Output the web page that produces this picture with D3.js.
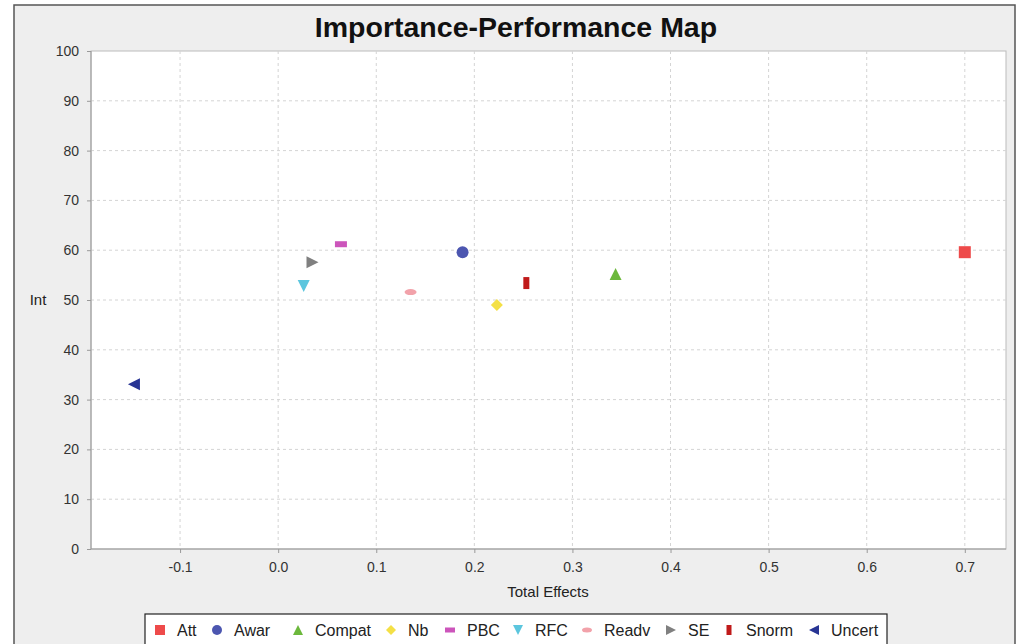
<!DOCTYPE html>
<html>
<head>
<meta charset="utf-8">
<script src="https://cdn.jsdelivr.net/npm/d3@7"></script>
<style>
  body { margin: 0; background: #fff; }
  svg { display: block; font-family: "Liberation Sans", Arial, sans-serif; }
  .axis text { font-size: 14px; fill: #333; }
  .axis path, .axis line { stroke: #999; }
  .grid line { stroke: #d4d4d4; stroke-dasharray: 3,3; }
</style>
</head>
<body>
<svg width="1017" height="644"></svg>
<script>
var names   = ["Att", "Awar", "Compat", "Nb", "PBC", "RFC", "Readv", "SE", "Snorm", "Uncert"];
var effects = [0.700, 0.188, 0.344, 0.223, 0.064, 0.026, 0.135, 0.035, 0.253, -0.147];
var perf    = [59.6, 59.6, 55.2, 49.0, 61.2, 52.8, 51.6, 57.6, 53.4, 33.1];
var xTicks  = [-0.1, 0.0, 0.1, 0.2, 0.3, 0.4, 0.5, 0.6, 0.7];
var yTicks  = [0, 10, 20, 30, 40, 50, 60, 70, 80, 90, 100];

var colors = {
  Att: "#ee4a4a", Awar: "#4c56b0", Compat: "#6cb83c", Nb: "#f4e046", PBC: "#cc55bb",
  RFC: "#5cc6de", Readv: "#f2a2aa", SE: "#808080", Snorm: "#c01a1a", Uncert: "#283594"
};

var svg = d3.select("svg"),
    width = +svg.attr("width"),
    height = +svg.attr("height");

var plot = {left: 91, top: 51, right: 1006, bottom: 549};

// outer panel
svg.append("rect")
  .attr("x", 14).attr("y", 5)
  .attr("width", 1001).attr("height", 660)
  .attr("fill", "#eeeeee")
  .attr("stroke", "#555").attr("stroke-width", 1.5);

svg.append("rect")
  .attr("x", plot.left).attr("y", plot.top)
  .attr("width", plot.right - plot.left).attr("height", plot.bottom - plot.top)
  .attr("fill", "#fff")
  .attr("stroke", "#bbb");

var x = d3.scaleLinear().domain([-0.1908, 0.742]).range([plot.left, plot.right]);
var y = d3.scaleLinear().domain([0, 100]).range([plot.bottom, plot.top]);

// grid
var grid = svg.append("g").attr("class", "grid");
grid.selectAll(".gx").data(xTicks).enter().append("line")
  .attr("x1", function(d) { return x(d); }).attr("x2", function(d) { return x(d); })
  .attr("y1", plot.top).attr("y2", plot.bottom);
grid.selectAll(".gy").data(yTicks.slice(1, -1)).enter().append("line")
  .attr("x1", plot.left).attr("x2", plot.right)
  .attr("y1", function(d) { return y(d); }).attr("y2", function(d) { return y(d); });

svg.append("g")
  .attr("class", "axis axis--x")
  .attr("transform", "translate(0," + plot.bottom + ")")
  .call(d3.axisBottom(x).tickValues(xTicks).tickFormat(function(d) { return d.toFixed(1); }).tickSize(4).tickPadding(9))
  .call(function(g) { g.select(".domain").attr("d", "M" + plot.left + ",0H" + plot.right); });

svg.append("g")
  .attr("class", "axis axis--y")
  .attr("transform", "translate(" + plot.left + ",0)")
  .call(d3.axisLeft(y).tickValues(yTicks).tickSize(4).tickPadding(8))
  .call(function(g) { g.select(".domain").attr("d", "M0," + plot.top + "V" + plot.bottom); });

svg.append("text")
  .attr("x", 516).attr("y", 37)
  .attr("text-anchor", "middle")
  .attr("font-size", 28.5).attr("font-weight", "bold")
  .attr("fill", "#111")
  .text("Importance-Performance Map");

svg.append("text")
  .attr("x", 548).attr("y", 597)
  .attr("text-anchor", "middle")
  .attr("font-size", 15).attr("fill", "#222")
  .text("Total Effects");

svg.append("text")
  .attr("x", 38).attr("y", 305)
  .attr("text-anchor", "middle")
  .attr("font-size", 15).attr("fill", "#222")
  .text("Int");

// marker shapes, centred on 0,0
function marker(sel, name, s) {
  var h = s / 2;
  var c = colors[name];
  if (name === "Att") sel.append("rect").attr("x", -h).attr("y", -h).attr("width", s).attr("height", s).attr("fill", c);
  else if (name === "Awar") sel.append("circle").attr("r", h).attr("fill", c);
  else if (name === "Compat") sel.append("path").attr("d", "M0," + (-h) + "L" + h + "," + h + "L" + (-h) + "," + h + "Z").attr("fill", c);
  else if (name === "Nb") sel.append("path").attr("d", "M0," + (-h) + "L" + h + ",0L0," + h + "L" + (-h) + ",0Z").attr("fill", c);
  else if (name === "PBC") sel.append("rect").attr("x", -h).attr("y", -h / 2).attr("width", s).attr("height", h).attr("fill", c);
  else if (name === "RFC") sel.append("path").attr("d", "M" + (-h) + "," + (-h) + "L" + h + "," + (-h) + "L0," + h + "Z").attr("fill", c);
  else if (name === "Readv") sel.append("ellipse").attr("rx", h).attr("ry", h / 2).attr("fill", c);
  else if (name === "SE") sel.append("path").attr("d", "M" + (-h) + "," + (-h) + "L" + h + ",0L" + (-h) + "," + h + "Z").attr("fill", c);
  else if (name === "Snorm") sel.append("rect").attr("x", -h / 2).attr("y", -h).attr("width", h).attr("height", s).attr("fill", c);
  else if (name === "Uncert") sel.append("path").attr("d", "M" + h + "," + (-h) + "L" + (-h) + ",0L" + h + "," + h + "Z").attr("fill", c);
}

var points = names.map(function(n, i) { return {name: n, x: effects[i], y: perf[i]}; });

svg.selectAll(".pt").data(points).enter().append("g")
  .attr("class", "pt")
  .attr("transform", function(d) { return "translate(" + x(d.x) + "," + y(d.y) + ")"; })
  .each(function(d) { marker(d3.select(this), d.name, 12); });

// legend
var legend = svg.append("g").attr("transform", "translate(145,614)");
legend.append("rect")
  .attr("width", 742).attr("height", 40)
  .attr("fill", "#fff").attr("stroke", "#222").attr("stroke-width", 1.2);

var legendX = [15, 72, 153, 246, 305, 373, 442, 526, 584, 669];
names.forEach(function(n, i) {
  var item = legend.append("g").attr("transform", "translate(" + legendX[i] + ",16)");
  marker(item.append("g"), n, 10);
  item.append("text")
    .attr("x", 17).attr("y", 6)
    .attr("font-size", 16).attr("fill", "#222")
    .text(n);
});
</script>
</body>
</html>
